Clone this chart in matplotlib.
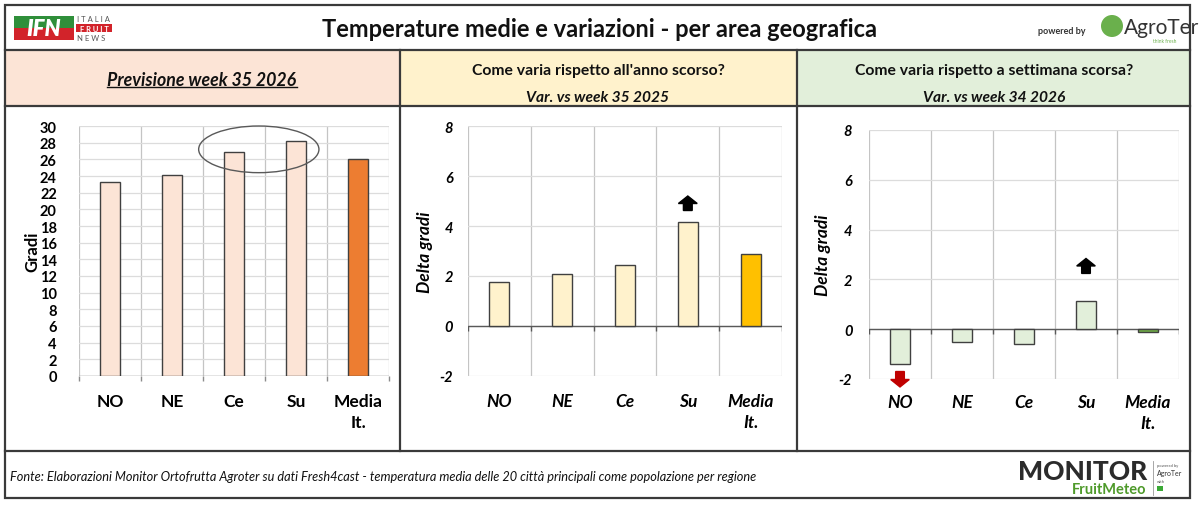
import numpy as np
import matplotlib
matplotlib.use("Agg")
import matplotlib.pyplot as plt
from matplotlib.patches import Rectangle, Ellipse, Circle

plt.rcParams['font.family'] = ['Lato', 'DejaVu Sans']
plt.rcParams['axes.unicode_minus'] = False

# dati
regioni = ['NO', 'NE', 'Ce', 'Su', 'Media\nIt.']
temp_week35 = [23.3, 24.1, 26.9, 28.2, 26.1]
delta_anno = [1.75, 2.08, 2.43, 4.15, 2.87]
delta_settimana = [-1.39, -0.51, -0.59, 1.14, -0.11]

W, H = 1200, 506
fig = plt.figure(figsize=(W / 100, H / 100), dpi=100)

# sfondo in pixel
bg = fig.add_axes([0, 0, 1, 1], zorder=-10)
bg.set_xlim(0, W)
bg.set_ylim(H, 0)
bg.axis('off')

edge = '#3a3a3a'
bg.add_patch(Rectangle((5, 51), 395, 56, facecolor='#FCE4D6', edgecolor='none'))
bg.add_patch(Rectangle((400, 51), 397, 56, facecolor='#FFF2CC', edgecolor='none'))
bg.add_patch(Rectangle((797, 51), 393, 56, facecolor='#E2EFDA', edgecolor='none'))
bg.add_patch(Rectangle((5, 6), 1185, 493, facecolor='none', edgecolor=edge, lw=1.6))
for y in [51, 107, 452]:
    bg.plot([5, 1190], [y, y], color=edge, lw=1.6)
for x in [400, 797]:
    bg.plot([x, x], [51, 452], color=edge, lw=1.6)

# titolo
bg.text(600, 29, 'Temperature medie e variazioni - per area geografica',
        ha='center', va='center', fontsize=17, fontweight='bold', color='#111111')

# logo IFN
bg.add_patch(Rectangle((14, 17), 60, 12, facecolor='#2f8f3a', edgecolor='none'))
bg.add_patch(Rectangle((14, 29), 60, 12, facecolor='#d2232a', edgecolor='none'))
bg.text(44, 29.5, 'IFN', ha='center', va='center', fontsize=16, fontweight='heavy',
        style='italic', color='white')
bg.text(77, 19, 'I T A L I A', ha='left', va='center', fontsize=5.5, color='#555555')
bg.add_patch(Rectangle((76, 25), 36, 8, facecolor='#d2232a', edgecolor='none'))
bg.text(94, 29, 'F R U I T', ha='center', va='center', fontsize=5.5, color='white', fontweight='bold')
bg.text(77, 38, 'N E W S', ha='left', va='center', fontsize=5.5, color='#555555')

# logo AgroTer
bg.text(1038, 31, 'powered by', ha='left', va='center', fontsize=6.5, fontweight='bold', color='#333333')
bg.add_patch(Circle((1112, 27), 11, facecolor='#6ab04c', edgecolor='none'))
bg.text(1124, 28, 'AgroTer', ha='left', va='center', fontsize=15, color='#333333')
bg.text(1165, 41, 'think fresh', ha='center', va='center', fontsize=3.5, color='#6ab04c')

# intestazioni
t1 = bg.text(202, 80, 'Previsione week 35 2026', ha='center', va='center', fontsize=12.8,
             fontweight='bold', style='italic', color='#111111')
bg.text(598, 71, "Come varia rispetto all'anno scorso?", ha='center', va='center',
        fontsize=11.3, fontweight='bold', color='#111111')
bg.text(598, 98, 'Var. vs week 35 2025', ha='center', va='center', fontsize=11.2,
        fontweight='bold', style='italic', color='#111111')
bg.text(994, 71, 'Come varia rispetto a settimana scorsa?', ha='center', va='center',
        fontsize=11.3, fontweight='bold', color='#111111')
bg.text(994, 98, 'Var. vs week 34 2026', ha='center', va='center', fontsize=11.2,
        fontweight='bold', style='italic', color='#111111')

# piede
bg.text(10, 477, 'Fonte: Elaborazioni Monitor Ortofrutta Agroter su dati Fresh4cast - temperatura media '
        'delle 20 città principali come popolazione per regione', ha='left', va='center',
        fontsize=9.2, style='italic', color='#111111')
bg.text(1018, 472, 'MONITOR', ha='left', va='center', fontsize=19, fontweight='black', color='#2b2b2b')
bg.text(1146, 490, 'FruitMeteo', ha='right', va='center', fontsize=10.5, fontweight='bold', color='#4e9a2a')
bg.plot([1153, 1153], [462, 496], color='#999999', lw=0.6)
bg.text(1157, 466, 'powered by', ha='left', va='center', fontsize=3, color='#555555')
bg.text(1157, 474, 'AgroTer', ha='left', va='center', fontsize=5, color='#333333')
bg.text(1157, 482, 'with', ha='left', va='center', fontsize=3, color='#555555')
bg.add_patch(Rectangle((1157, 487), 6, 5, facecolor='#3aa935', edgecolor='none'))


def px_axes(l, t, r, b):
    return fig.add_axes([l / W, 1 - b / H, (r - l) / W, (b - t) / H])


def prepara(ax, ylim, step, italic, ypad, xpad):
    st = 'italic' if italic else 'normal'
    ax.set_facecolor('none')
    ax.set_xlim(-0.5, 4.5)
    ax.set_ylim(*ylim)
    ax.set_yticks(np.arange(ylim[0], ylim[1] + 0.01, step))
    ax.grid(axis='y', color='#dcdcdc', lw=0.9, zorder=0)
    ax.set_axisbelow(True)
    for b in np.arange(-0.5, 5, 1):
        ax.axvline(b, color='#c4c4c4', lw=0.9, zorder=0)
    for s in ax.spines.values():
        s.set_visible(False)
    ax.set_xticks(range(5))
    ax.set_xticklabels(regioni, fontsize=12.5, fontweight='bold', style=st, linespacing=1.4,
                       va='top')
    for lab in ax.get_yticklabels():
        lab.set_fontsize(10.5)
        lab.set_fontweight('bold')
        lab.set_style(st)
    ax.tick_params(axis='y', length=0, pad=ypad)
    ax.tick_params(axis='x', length=0, pad=xpad)


# pannello 1
ax1 = px_axes(79, 127, 389, 377)
prepara(ax1, (0, 30), 2, False, 16, 12)
cols1 = ['#FCE4D6'] * 4 + ['#ED7D31']
ax1.bar(range(5), temp_week35, width=0.33, color=cols1, edgecolor='#404040', lw=1, zorder=3)
ax1.axhline(0, color='#8c8c8c', lw=1, zorder=2)
ax1.vlines(np.arange(-0.5, 5, 1), -0.6, 0, color='#8c8c8c', lw=1, clip_on=False)
ax1.set_ylabel('Gradi', fontsize=12, fontweight='bold')
ax1.yaxis.set_label_coords(-0.126, 0.5)
ax1.add_patch(Ellipse((2.4, 27.2), 1.94, 5.6, facecolor='none', edgecolor='#595959',
                      lw=1, clip_on=False, zorder=4))

# pannello 2
ax2 = px_axes(468, 127, 782, 377)
prepara(ax2, (-2, 8), 2, True, 11, 12)
cols2 = ['#FFF2CC'] * 4 + ['#FFC000']
ax2.bar(range(5), delta_anno, width=0.32, color=cols2, edgecolor='#404040', lw=1, zorder=3)
ax2.axhline(0, color='#595959', lw=1, zorder=2)
ax2.vlines(np.arange(-0.5, 5, 1), -0.2, 0, color='#595959', lw=1)
ax2.set_ylabel('Delta gradi', fontsize=12.5, fontweight='bold', style='italic')
ax2.yaxis.set_label_coords(-0.111, 0.5)
ax2.arrow(3, 4.62, 0, 0.58, width=0.14, head_width=0.3, head_length=0.3,
          length_includes_head=True, color='black', zorder=5)

# pannello 3
ax3 = px_axes(869, 131, 1179, 380)
prepara(ax3, (-2, 8), 2, True, 12, 11)
cols3 = ['#E2EFDA'] * 4 + ['#70AD47']
ax3.bar(range(5), delta_settimana, width=0.32, color=cols3, edgecolor='#404040', lw=1, zorder=3)
ax3.axhline(0, color='#595959', lw=1, zorder=2)
ax3.vlines(np.arange(-0.5, 5, 1), -0.2, 0, color='#595959', lw=1)
ax3.set_ylabel('Delta gradi', fontsize=12.5, fontweight='bold', style='italic')
ax3.yaxis.set_label_coords(-0.123, 0.5)
ax3.arrow(3, 2.24, 0, 0.6, width=0.14, head_width=0.3, head_length=0.3,
          length_includes_head=True, color='black', zorder=5)
ax3.arrow(0, -1.7, 0, -0.62, width=0.14, head_width=0.3, head_length=0.3,
          length_includes_head=True, color='#C00000', zorder=5, clip_on=False)

# sottolineatura del titolo del pannello 1
fig.canvas.draw()
bb = t1.get_window_extent().transformed(bg.transData.inverted())
bg.plot([bb.x0, bb.x1], [bb.y0 - 1, bb.y0 - 1], color='#111111', lw=1)

fig.savefig('out.png', dpi=100)
